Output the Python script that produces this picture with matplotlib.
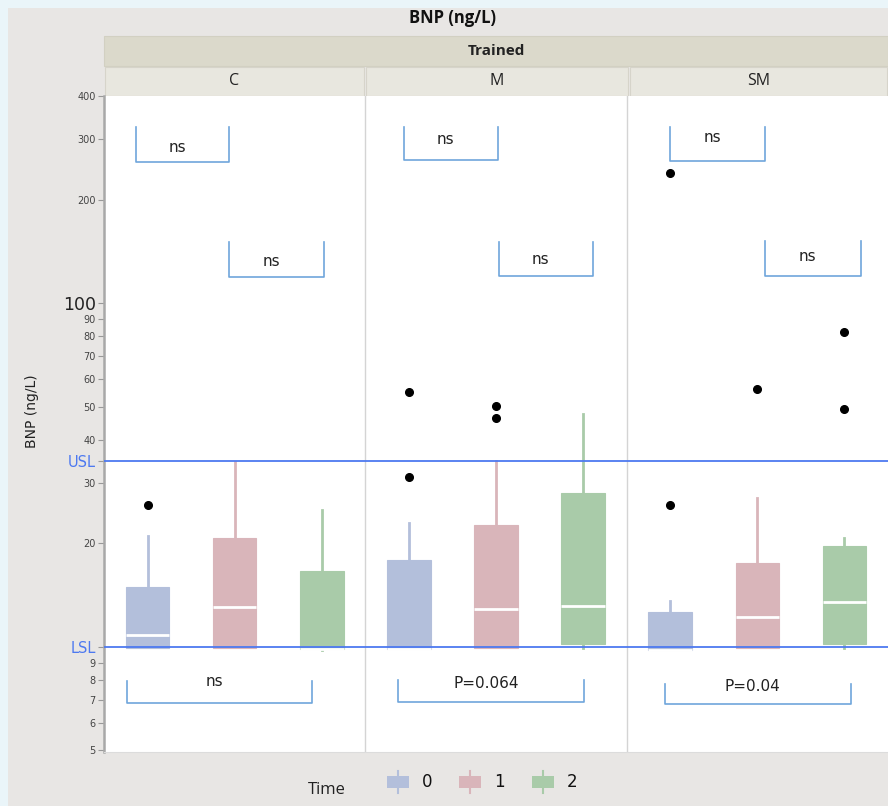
import matplotlib
matplotlib.use("Agg")
import matplotlib.pyplot as plt
from matplotlib.patches import Rectangle
from matplotlib.lines import Line2D
from matplotlib.ticker import FixedLocator, FixedFormatter, NullLocator

# ---------------- data ----------------
groups = ["C", "M", "SM"]
times = ["0", "1", "2"]
colors = ["#b3bfdb", "#d9b5ba", "#a9cba9"]

# per group, per time
q1 = [[9.9, 9.9, 9.85], [9.85, 9.9, 10.2], [9.8, 9.9, 10.2]]
med = [[10.8, 13.1, 9.85], [9.85, 12.9, 13.2], [9.8, 12.2, 13.5]]
q3 = [[14.9, 20.8, 16.6], [17.9, 22.6, 28.1], [12.6, 17.6, 19.7]]
whislo = [[9.9, 9.9, 9.8], [9.85, 9.9, 9.9], [9.8, 9.9, 9.9]]
whishi = [[21.0, 34.5, 25.1], [23.0, 34.7, 47.7], [13.6, 27.2, 20.7]]
fliers = [[[25.8], [], []],
          [[55.0, 31.2], [50.2, 46.4], []],
          [[25.8, 239.0], [56.2], [82.3, 49.1]]]

USL = 34.7
LSL = 10.0

tick_vals = [5, 6, 7, 8, 9, 10, 20, 30, USL, 40, 50, 60, 70, 80, 90, 100, 200, 300, 400]
tick_labs = ["5", "6", "7", "8", "9", "LSL", "20", "30", "USL", "40", "50", "60", "70",
             "80", "90", "100", "200", "300", "400"]

# significance brackets: (x0, x1, y_top, y_bottom, text, y_text)
brackets = [
    (0.37, 1.44, 325, 257, "ns", 284),
    (1.44, 2.53, 150, 119, "ns", 132),
    (0.26, 2.39, 7.94, 6.85, "ns", 7.94),
    (3.44, 4.52, 325, 260, "ns", 298),
    (4.54, 5.61, 150, 120, "ns", 134),
    (3.38, 5.51, 8.0, 6.90, "P=0.064", 7.83),
    (6.50, 7.59, 325, 258, "ns", 302),
    (7.59, 8.69, 152, 120, "ns", 137),
    (6.44, 8.57, 7.83, 6.81, "P=0.04", 7.68),
]

# ---------------- figure ----------------
W, H = 888, 806
fig = plt.figure(figsize=(W / 100, H / 100), dpi=100)
fig.patch.set_facecolor("#eaf5f9")

def fx(px):
    return px / W

def fy(py):
    return 1 - py / H

# gray panel background
fig.patches.append(Rectangle((fx(8), 0), 1 - fx(8), fy(8), transform=fig.transFigure,
                             facecolor="#e8e6e4", edgecolor="none", zorder=-5))
# header bands
fig.patches.append(Rectangle((fx(104), fy(66)), 1 - fx(104), fy(36) - fy(66),
                             transform=fig.transFigure, facecolor="#dbd9cb",
                             edgecolor="#d2d0c2", lw=0.8, zorder=-4))
panel_px = [(104, 365), (365, 629), (629, 888)]
for (a, b), g in zip(panel_px, groups):
    fig.patches.append(Rectangle((fx(a) + 0.001, fy(96)), fx(b) - fx(a) - 0.002, fy(67) - fy(96),
                                 transform=fig.transFigure, facecolor="#e8e7df",
                                 edgecolor="#d6d4ca", lw=0.8, zorder=-4))
    fig.text(fx((a + b) / 2), fy(81), g, ha="center", va="center", fontsize=11.5,
             family="Open Sans", color="#222222")
fig.text(fx(496), fy(51), "Trained", ha="center", va="center", fontsize=11,
         fontweight="bold", family="Open Sans", color="#222222")
fig.text(fx(452), fy(18), "BNP (ng/L)", ha="center", va="center", fontsize=12,
         fontweight="bold", family="Open Sans", color="#111111")

ax = fig.add_axes([fx(104), fy(752), 1 - fx(104), fy(96) - fy(752)])
ax.set_zorder(5)
ax.set_facecolor("white")
ax.set_yscale("log")

stats = []
positions = []
box_colors = []
for gi in range(len(groups)):
    for ti in range(len(times)):
        stats.append(dict(med=med[gi][ti], q1=q1[gi][ti], q3=q3[gi][ti],
                          whislo=whislo[gi][ti], whishi=whishi[gi][ti],
                          fliers=fliers[gi][ti]))
        positions.append(gi * 3 + ti + 0.5)
        box_colors.append(colors[ti])

bp = ax.bxp(stats, positions=positions, widths=0.5, patch_artist=True, showcaps=False,
            medianprops=dict(color="white", lw=2),
            flierprops=dict(marker="o", markerfacecolor="black", markeredgecolor="black",
                            markersize=5.5), manage_ticks=False)
for i, c in enumerate(box_colors):
    bp["boxes"][i].set_facecolor(c)
    bp["boxes"][i].set_edgecolor(c)
    bp["boxes"][i].set_linewidth(0.8)
    for w in bp["whiskers"][2 * i:2 * i + 2]:
        w.set_color(c)
        w.set_linewidth(2)

ax.set_xlim(0, 9)
ax.set_ylim(4.95, 400)
for xv in [3, 6]:
    ax.axvline(xv, color="#d4d4d4", lw=1, zorder=0.5)
for yv in [USL, LSL]:
    ax.axhline(yv, color="#4d79f0", lw=1.3, zorder=3)

ax.set_xticks([])
ax.yaxis.set_major_locator(FixedLocator(tick_vals))
ax.yaxis.set_major_formatter(FixedFormatter(tick_labs))
ax.yaxis.set_minor_locator(NullLocator())
ax.tick_params(axis="y", length=4, width=0.8, color="#999999", pad=2, labelsize=7,
               labelcolor="#444444")
for lab, v, tk in zip(ax.get_yticklabels(), tick_vals, ax.yaxis.get_major_ticks()):
    t = lab.get_text()
    if t in ("USL", "LSL"):
        lab.set_color("#4d79f0")
        lab.set_fontsize(10.5)
        tk.tick1line.set_color("#4d79f0")
    elif t == "100":
        lab.set_fontsize(12.5)
        lab.set_color("#222222")

for s in ["top", "right"]:
    ax.spines[s].set_visible(False)
ax.spines["left"].set_color("#a8a8a8")
ax.spines["left"].set_linewidth(1.8)
ax.spines["bottom"].set_color("#dcdcdc")

ax.set_ylabel("BNP (ng/L)", fontsize=10, color="#222222")
ax.yaxis.set_label_coords(-0.083, 0.52)

bc = "#6fa6dc"
for x0, x1, yt, yb, txt, ytx in brackets:
    ax.plot([x0, x0, x1, x1], [yt, yb, yb, yt], color=bc, lw=1.2, zorder=4)
    ax.text((x0 + x1) / 2 - 0.06, ytx, txt, ha="center", va="center", fontsize=11,
            color="#222222", zorder=5)

# legend
fig.text(fx(327), fy(790), "Time", ha="center", va="center", fontsize=12,
         family="Open Sans", color="#222222")
leg_x = [398, 470, 543]
for xp, c, t in zip(leg_x, colors, times):
    fig.patches.append(Rectangle((fx(xp - 11), fy(788)), fx(22), fy(776) - fy(788),
                                 transform=fig.transFigure, facecolor=c, edgecolor="none"))
    fig.lines.append(Line2D([fx(xp), fx(xp)], [fy(793), fy(771)], transform=fig.transFigure,
                            color=c, lw=1.5))
    fig.text(fx(xp + 29), fy(782), t, ha="center", va="center", fontsize=12,
             color="#111111")

fig.savefig("out.png", dpi=100, facecolor=fig.get_facecolor())
